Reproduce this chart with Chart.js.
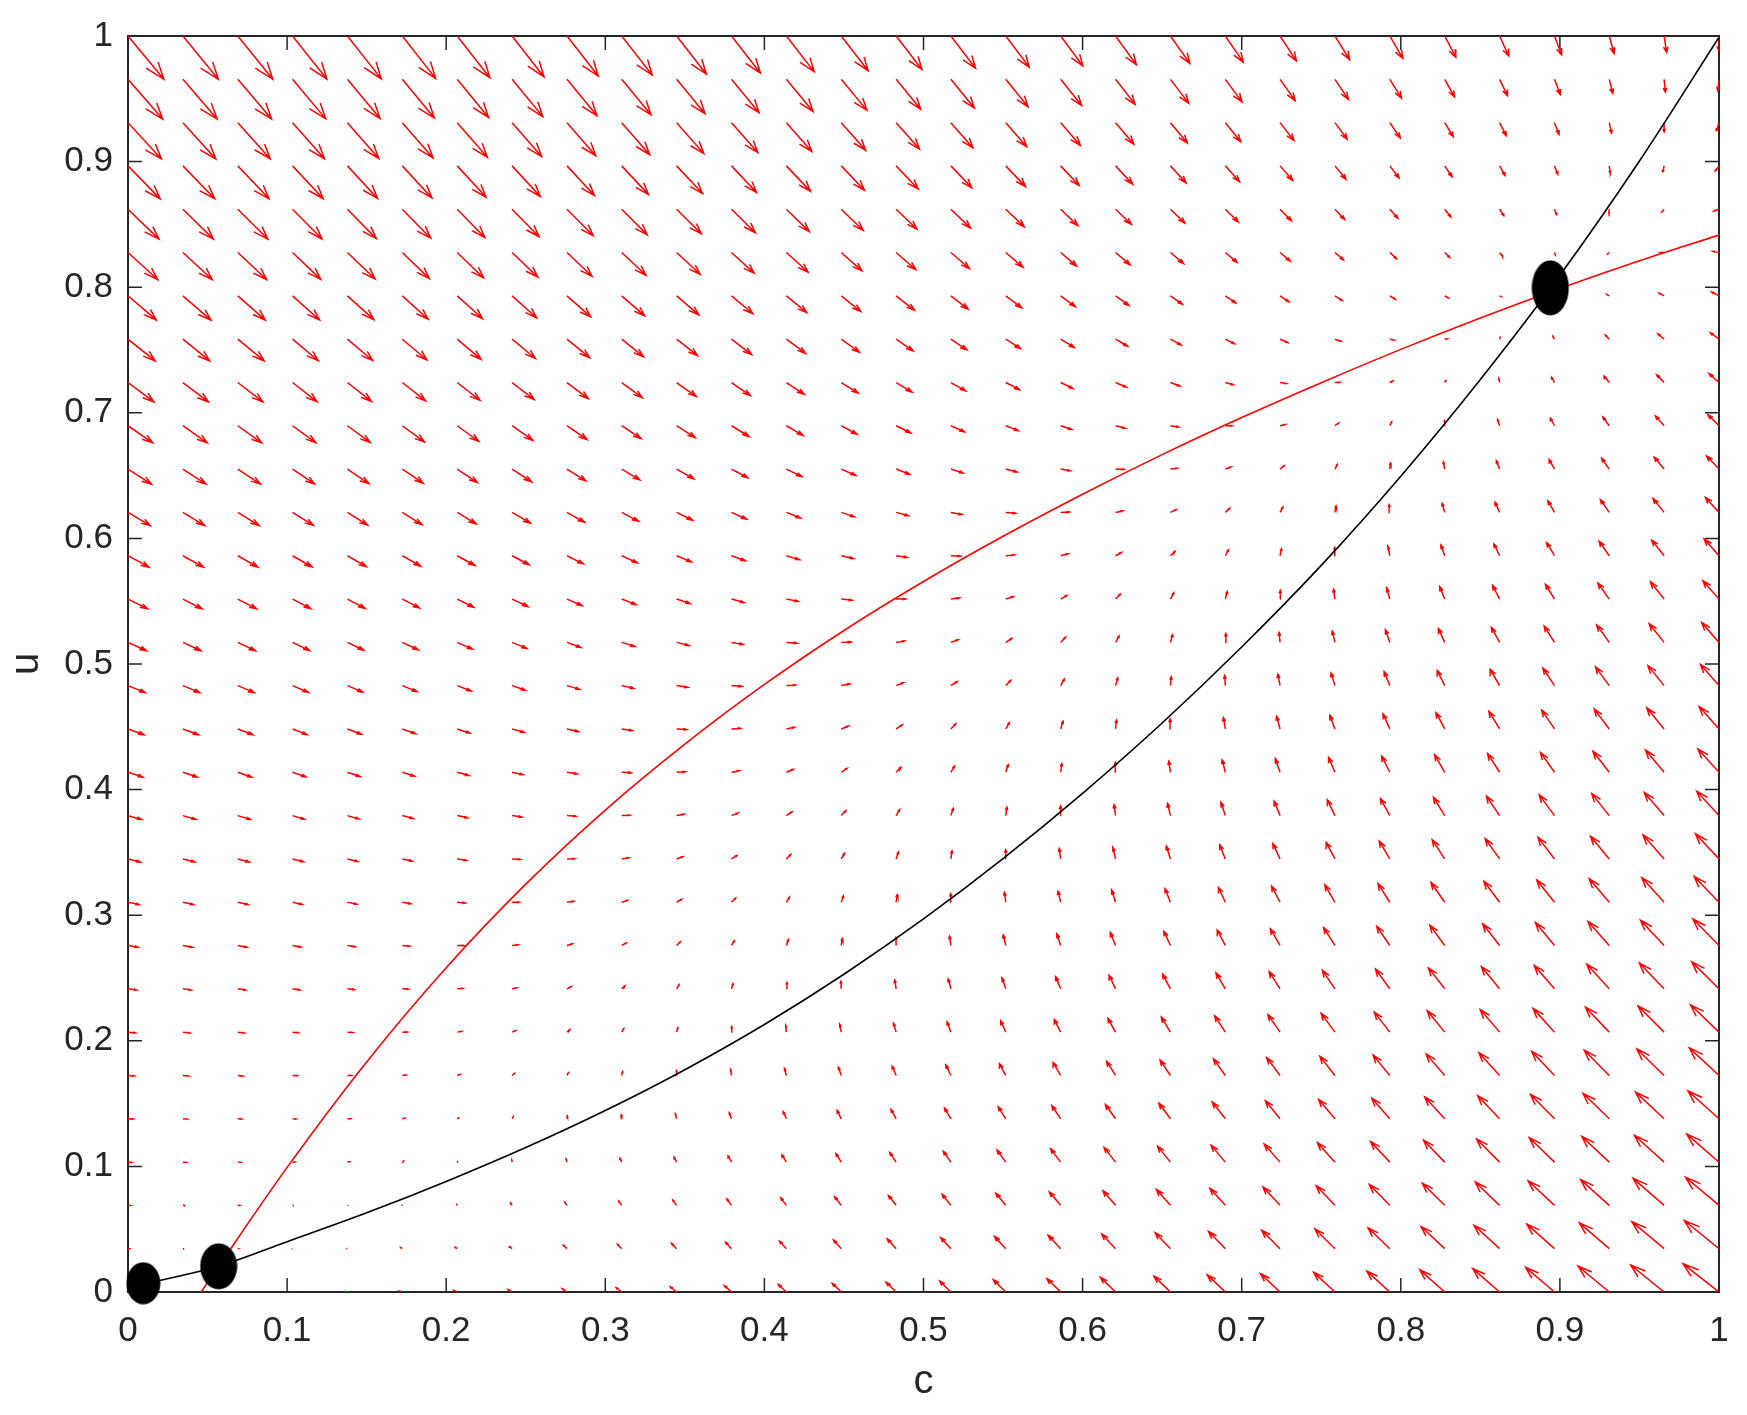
<!DOCTYPE html>
<html>
<head>
<meta charset="utf-8">
<script src="https://cdn.jsdelivr.net/npm/chart.js@4.4.1/dist/chart.umd.min.js"></script>
<style>
  html, body { margin: 0; padding: 0; background: #fff; }
</style>
</head>
<body>
<canvas id="phase" width="1747" height="1415"></canvas>
<script>
// tick labels on both axes
const axisTicks = [0, 0.1, 0.2, 0.3, 0.4, 0.5, 0.6, 0.7, 0.8, 0.9, 1];

// black curve (dc/dt = 0)
const blackC = [0, 0.01, 0.057, 0.1, 0.15, 0.2, 0.25, 0.3, 0.35, 0.4, 0.45, 0.5, 0.55, 0.6, 0.65, 0.7, 0.75, 0.8, 0.85, 0.9, 0.95, 1];
const blackU = [0.002, 0.006, 0.0205, 0.04, 0.063, 0.088, 0.115, 0.1445, 0.177, 0.213, 0.253, 0.297, 0.345, 0.397, 0.453, 0.5135, 0.5785, 0.6495, 0.7265, 0.8095, 0.9005, 0.999];

// red curve (du/dt = 0)
const redC = [0.046, 0.057, 0.1, 0.15, 0.2, 0.25, 0.3, 0.35, 0.4, 0.45, 0.5, 0.55, 0.6, 0.65, 0.7, 0.75, 0.8, 0.85, 0.9, 0.95, 1];
const redU = [0, 0.0205, 0.0992, 0.1832, 0.2582, 0.3247, 0.3837, 0.4362, 0.4837, 0.5267, 0.5657, 0.6017, 0.6352, 0.6667, 0.6962, 0.724, 0.7505, 0.7755, 0.799, 0.821, 0.8415];

// fixed points (black dots)
const fixedC = [0.0096, 0.057, 0.894];
const fixedU = [0.007, 0.0205, 0.7995];

// quiver grid (30 x 30)
const gridVals = [0, 0.0345, 0.069, 0.1034, 0.1379, 0.1724, 0.2069, 0.2414, 0.2759, 0.3103,
  0.3448, 0.3793, 0.4138, 0.4483, 0.4828, 0.5172, 0.5517, 0.5862, 0.6207, 0.6552,
  0.6897, 0.7241, 0.7586, 0.7931, 0.8276, 0.8621, 0.8966, 0.931, 0.9655, 1];

// arrow length factors at the corners
const rateC = 0.0226;
const rateU = 0.0345;
const powU = 2.5;

const textColor = '#262626';
const fontFamily = "'Liberation Sans', Arial, Helvetica, sans-serif";

function curveAt(cs, us, c) {
  if (c <= cs[0]) return us[0];
  for (let i = 1; i < cs.length; i++) {
    if (c <= cs[i]) return us[i-1] + (us[i] - us[i-1]) * (c - cs[i-1]) / (cs[i] - cs[i-1]);
  }
  return us[us.length - 1];
}

// arrows: shaft + head, like matlab quiver
const gap = {x: NaN, y: NaN};
const arrowPts = [];
const alpha = 0.33, beta = 0.33;
gridVals.forEach(c => {
  gridVals.forEach(u => {
    const dc = rateC * (u - curveAt(blackC, blackU, c));
    const r = Math.max(curveAt(redC, redU, c), 0);
    const du = rateU * (Math.pow(r, powU) - Math.pow(u, powU));
    const tx = c + dc, ty = u + du;
    arrowPts.push({x: c, y: u}, {x: tx, y: ty}, gap,
      {x: tx - alpha * (dc + beta * du), y: ty - alpha * (du - beta * dc)},
      {x: tx, y: ty},
      {x: tx - alpha * (dc - beta * du), y: ty - alpha * (du + beta * dc)}, gap);
  });
});

function ellipseDot(w, h) {
  const cv = document.createElement('canvas');
  cv.width = w; cv.height = h;
  const g = cv.getContext('2d');
  g.fillStyle = '#000';
  g.beginPath();
  g.ellipse(w / 2, h / 2, w / 2 - 0.5, h / 2 - 0.5, 0, 0, 2 * Math.PI);
  g.fill();
  return cv;
}
const dotStyles = [ellipseDot(35, 43), ellipseDot(38, 47), ellipseDot(38, 56)];

// box + inward ticks on all four sides
const frame = {
  id: 'frame',
  beforeDatasetsDraw(chart) {
    const {ctx, chartArea: a, scales: {x, y}} = chart;
    ctx.save();
    ctx.strokeStyle = textColor;
    ctx.lineWidth = 1.5;
    ctx.beginPath();
    axisTicks.forEach(v => {
      const px = x.getPixelForValue(v);
      const py = y.getPixelForValue(v);
      ctx.moveTo(px, a.bottom); ctx.lineTo(px, a.bottom - 14);
      ctx.moveTo(px, a.top); ctx.lineTo(px, a.top + 14);
      ctx.moveTo(a.left, py); ctx.lineTo(a.left + 14, py);
      ctx.moveTo(a.right, py); ctx.lineTo(a.right - 14, py);
    });
    ctx.stroke();
    ctx.lineWidth = 2;
    ctx.strokeRect(a.left, a.top, a.right - a.left, a.bottom - a.top);
    ctx.restore();
  }
};

new Chart(document.getElementById('phase'), {
  type: 'scatter',
  data: {
    datasets: [
      {
        data: fixedC.map((c, i) => ({x: c, y: fixedU[i]})),
        pointStyle: dotStyles,
        pointRadius: 20,
        clip: false,
        order: 0
      },
      {
        data: blackC.map((c, i) => ({x: c, y: blackU[i]})),
        showLine: true,
        borderColor: '#000',
        borderWidth: 1.6,
        pointRadius: 0,
        cubicInterpolationMode: 'monotone',
        order: 1
      },
      {
        data: redC.map((c, i) => ({x: c, y: redU[i]})),
        showLine: true,
        borderColor: '#ff0000',
        borderWidth: 1.6,
        pointRadius: 0,
        cubicInterpolationMode: 'monotone',
        order: 2
      },
      {
        data: arrowPts,
        showLine: true,
        spanGaps: false,
        borderColor: '#ff0000',
        borderWidth: 1.5,
        pointRadius: 0,
        order: 3
      }
    ]
  },
  options: {
    responsive: false,
    animation: false,
    events: [],
    layout: { padding: { left: 0, top: 36, right: 28, bottom: 0 } },
    plugins: { legend: { display: false }, tooltip: { enabled: false } },
    scales: {
      x: {
        type: 'linear', min: 0, max: 1,
        grid: { display: false, drawTicks: false },
        border: { display: false },
        ticks: {
          stepSize: 0.1, maxRotation: 0, padding: 18, color: textColor,
          font: { family: fontFamily, size: 35 },
          callback: v => String(Math.round(v * 10) / 10)
        },
        title: {
          display: true, text: 'c', color: textColor,
          font: { family: fontFamily, size: 40 },
          padding: { top: 0, bottom: 9 }
        },
        afterFit: s => { s.height = 123; }
      },
      y: {
        type: 'linear', min: 0, max: 1,
        grid: { display: false, drawTicks: false },
        border: { display: false },
        ticks: {
          stepSize: 0.1, padding: 15, color: textColor,
          font: { family: fontFamily, size: 35 },
          callback: v => String(Math.round(v * 10) / 10)
        },
        title: {
          display: true, text: 'u', color: textColor,
          font: { family: fontFamily, size: 40 },
          padding: { top: 3, bottom: 0 }
        },
        afterFit: s => { s.width = 128; }
      }
    }
  },
  plugins: [frame]
});
</script>
</body>
</html>
